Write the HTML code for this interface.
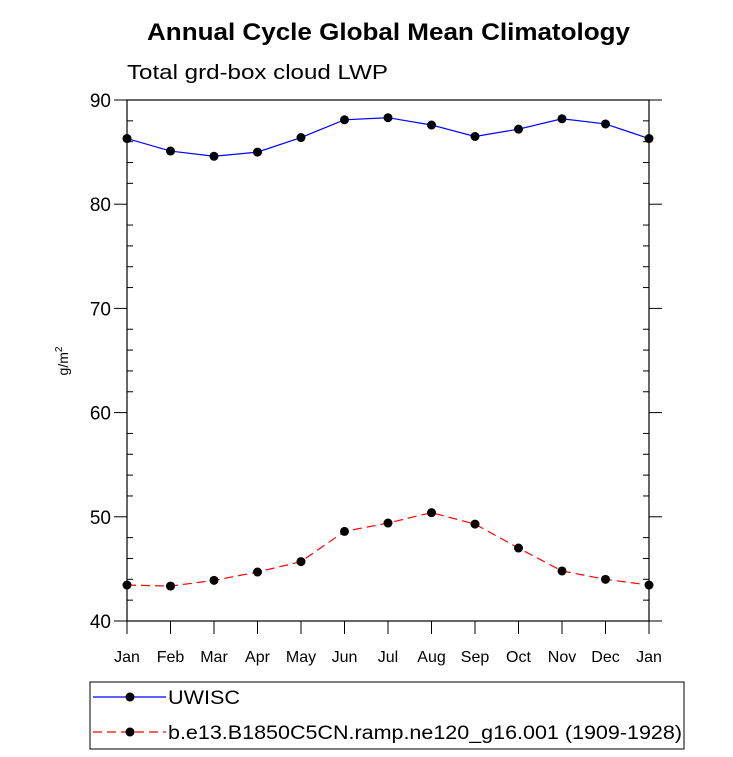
<!DOCTYPE html>
<html><head><meta charset="utf-8"><style>body{margin:0;background:#fff}svg{display:block;font-family:"Liberation Sans",sans-serif}</style></head>
<body>
<svg id="c" width="733" height="757">
<text x="147" y="40" textLength="483" lengthAdjust="spacingAndGlyphs" font-size="24" font-weight="bold">Annual Cycle Global Mean Climatology</text>
<text x="127" y="79" textLength="261" lengthAdjust="spacingAndGlyphs" font-size="20">Total grd-box cloud LWP</text>
<text transform="translate(68,361) rotate(-90)" text-anchor="middle" font-size="14">g/m<tspan dy="-6" font-size="10">2</tspan></text>
<g id="axes"></g><g id="series"></g>
<g>
<rect x="90" y="682" width="594" height="67" fill="none" stroke="#000" stroke-width="1"/>
<line x1="93" y1="697" x2="166" y2="697" stroke="#0000ff" stroke-width="1.2"/>
<circle cx="130" cy="697" r="4.5" fill="#000"/>
<text x="168" y="704" textLength="72" lengthAdjust="spacingAndGlyphs" font-size="19">UWISC</text>
<line x1="93" y1="732" x2="166" y2="732" stroke="#ff0000" stroke-width="1.2" stroke-dasharray="9,5"/>
<circle cx="130" cy="732" r="4.5" fill="#000"/>
<text x="168" y="739" textLength="514" lengthAdjust="spacingAndGlyphs" font-size="19">b.e13.B1850C5CN.ramp.ne120_g16.001 (1909-1928)</text>
</g>
</svg>
<script>
const months=["Jan","Feb","Mar","Apr","May","Jun","Jul","Aug","Sep","Oct","Nov","Dec","Jan"];
const uwisc=[86.3,85.1,84.6,85.0,86.4,88.1,88.3,87.6,86.5,87.2,88.2,87.7,86.3];
const model=[43.45,43.35,43.9,44.7,45.7,48.6,49.4,50.4,49.3,47.0,44.8,44.0,43.45];
const yTicks=[40,50,60,70,80,90];
const L=127,R=649,T=100,B=621,ymin=40,ymax=90;
const NS="http://www.w3.org/2000/svg";
const X=i=>L+(R-L)*i/(months.length-1);
const Y=v=>B-(B-T)*(v-ymin)/(ymax-ymin);
const ax=document.getElementById('axes'),se=document.getElementById('series');
function mk(t,a,p){const e=document.createElementNS(NS,t);for(const k in a)e.setAttribute(k,a[k]);p.appendChild(e);return e;}
const fr=mk('rect',{x:L,y:T,width:R-L,height:B-T,fill:'none',stroke:'#000','stroke-width':1.2},ax);


for(let v=ymin;v<=ymax;v+=2){const y=Y(v);const maj=(v%10===0);
 if(maj){mk('line',{x1:L-13,y1:y,x2:L,y2:y,stroke:'#000'},ax);mk('line',{x1:R,y1:y,x2:R+13,y2:y,stroke:'#000'},ax);}
 else{mk('line',{x1:L,y1:y,x2:L+6,y2:y,stroke:'#000'},ax);mk('line',{x1:R-6,y1:y,x2:R,y2:y,stroke:'#000'},ax);}}
yTicks.forEach(v=>{const t=mk('text',{x:L-16,y:Y(v)+7,'text-anchor':'end','font-size':19},ax);t.textContent=v;

});
months.forEach((m,i)=>{const x=X(i);mk('line',{x1:x,y1:B,x2:x,y2:B+13,stroke:'#000'},ax);
const t=mk('text',{x:x,y:B+41,'text-anchor':'middle','font-size':16},ax);t.textContent=m;

});
function draw(d,col,dash,name){const pl=mk('polyline',{points:d.map((v,i)=>X(i)+','+Y(v)).join(' '),fill:'none',stroke:col,'stroke-width':1.2,'stroke-dasharray':dash},se);


d.forEach((v,i)=>{const c=mk('circle',{cx:X(i),cy:Y(v),r:4.5,fill:'#000'},se);

});}
draw(uwisc,'#0000ff','none','uwisc');
draw(model,'#ff0000','9,5','model');
</script>
</body></html>
